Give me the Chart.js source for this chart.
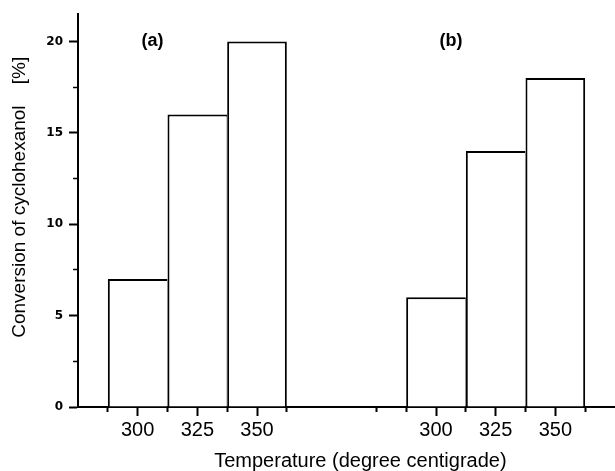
<!DOCTYPE html>
<html>
<head>
<meta charset="utf-8">
<script src="https://cdn.jsdelivr.net/npm/chart.js@4/dist/chart.umd.min.js"></script>
<style>
  html, body { margin: 0; padding: 0; background: #ffffff; }
  #wrap { width: 615px; height: 471px; }
</style>
</head>
<body>
<div id="wrap"><canvas id="c" width="615" height="471"></canvas></div>
<script>
// ---- data ----
const temperatures = ['300', '325', '350'];
const conversionA = [7, 16, 20];
const conversionB = [6, 14, 18];
const panelNames = ['(a)', '(b)'];
const yTickValues = [0, 5, 10, 15, 20];
const yMinorTickValues = [2.5, 7.5, 12.5, 17.5];
const xTitle = 'Temperature (degree centigrade)';
const yTitle = 'Conversion of cyclohexanol    [%]';

// ---- layout of the linear x axis (axis units) ----
const groupStart = [2, 12];
const barStep = 2;
const xMax = 18;
const yMax = 21.5;
const xMinorTicks = [1, 3, 5, 7, 10, 11, 13, 15, 17];

const FONT = '"Liberation Sans", Arial, sans-serif';

function groupPositions(g) { return temperatures.map((_, i) => groupStart[g] + i * barStep); }
const labeledPositions = groupPositions(0).concat(groupPositions(1));

function labelFor(v) {
  for (let g = 0; g < groupStart.length; g++) {
    const k = (v - groupStart[g]) / barStep;
    if (Number.isInteger(k) && k >= 0 && k < temperatures.length) return temperatures[k];
  }
  return '';
}

const datasets = [conversionA, conversionB].map((vals, g) => ({
  label: panelNames[g],
  data: vals.map((v, i) => ({ x: groupPositions(g)[i], y: v })),
  backgroundColor: '#ffffff',
  borderColor: '#000000',
  borderWidth: c => ({ top: 2, left: 2, right: c.dataIndex === vals.length - 1 ? 2 : 0.6, bottom: 0 }),
  borderSkipped: 'start',
  barPercentage: 1,
  categoryPercentage: 1,
  inflateAmount: 0,
  stack: 'panels'
}));

const panelLabelPlugin = {
  id: 'panelLabels',
  afterDatasetsDraw(chart) {
    const { ctx, scales } = chart;
    ctx.save();
    ctx.font = 'bold 18px ' + FONT;
    ctx.fillStyle = '#000';
    ctx.textAlign = 'center';
    ctx.textBaseline = 'middle';
    panelNames.forEach((name, g) => {
      ctx.fillText(name, scales.x.getPixelForValue(groupStart[g] + 0.5),
                   scales.y.getPixelForValue(yTickValues[yTickValues.length - 1]));
    });
    ctx.restore();
  }
};

new Chart(document.getElementById('c'), {
  type: 'bar',
  data: { datasets },
  plugins: [panelLabelPlugin],
  options: {
    responsive: false,
    animation: false,
    layout: { padding: { top: 14, right: 0, left: 0, bottom: 0 } },
    plugins: { legend: { display: false }, tooltip: { enabled: false } },
    scales: {
      x: {
        type: 'linear', position: 'bottom', weight: 1, min: 0, max: xMax, offset: false,
        afterBuildTicks: s => { s.ticks = labeledPositions.map(v => ({ value: v })); },
        afterFit: s => { s.height = 64; },
        ticks: { autoSkip: false, maxRotation: 0, padding: 2, color: '#000',
                 font: { family: FONT, size: 20 }, callback: v => labelFor(v) },
        grid: { offset: false, drawOnChartArea: false, drawTicks: true, tickLength: 9, tickWidth: 2, tickColor: '#000' },
        border: { display: true, color: '#000', width: 2 },
        title: { display: true, text: '     ' + xTitle, color: '#000',
                 font: { family: FONT, size: 20, lineHeight: 1 }, padding: { top: 0, bottom: 0 } }
      },
      x2: {
        type: 'linear', position: 'bottom', weight: 0, min: 0, max: xMax, offset: false,
        afterBuildTicks: s => { s.ticks = xMinorTicks.map(v => ({ value: v })); },
        afterFit: s => { s.height = 0; },
        ticks: { display: false, autoSkip: false },
        grid: { offset: false, drawOnChartArea: false, drawTicks: true, tickLength: 5, tickWidth: 2, tickColor: '#000' },
        border: { display: false }
      },
      y: {
        type: 'linear', position: 'left', weight: 1, min: 0, max: yMax,
        afterBuildTicks: s => { s.ticks = yTickValues.map(v => ({ value: v })); },
        afterFit: s => { s.width = 78; },
        ticks: { autoSkip: false, padding: 6, color: '#000',
                 font: { family: '"DejaVu Sans", sans-serif', size: 12, weight: 'bold' } },
        grid: { drawOnChartArea: false, drawTicks: true, tickLength: 9, tickWidth: 2, tickColor: '#000' },
        border: { display: true, color: '#000', width: 2 },
        title: { display: true, text: '     ' + yTitle, color: '#000',
                 font: { family: FONT, size: 19, lineHeight: 1.2 }, padding: { top: 8, bottom: 0 } }
      },
      y2: {
        type: 'linear', position: 'left', weight: 0, min: 0, max: yMax,
        afterBuildTicks: s => { s.ticks = yMinorTickValues.map(v => ({ value: v })); },
        afterFit: s => { s.width = 0; },
        ticks: { display: false, autoSkip: false },
        grid: { drawOnChartArea: false, drawTicks: true, tickLength: 5, tickWidth: 1.5, tickColor: '#000' },
        border: { display: false }
      }
    }
  }
});
</script>
</body>
</html>
